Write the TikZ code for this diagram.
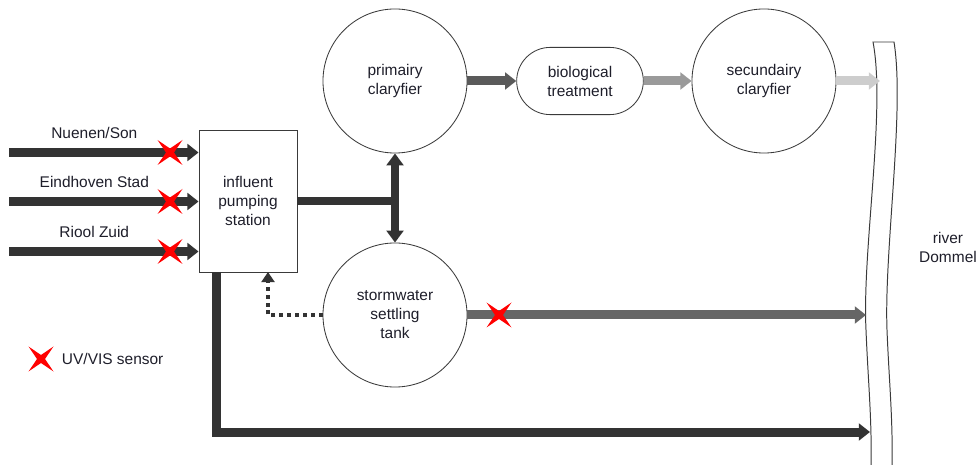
\documentclass[tikz,border=0pt]{standalone}
\usepackage{fontspec}
\setmainfont{Liberation Sans}
\usepackage{tikz}
\usetikzlibrary{
    arrows.meta,
    shapes.misc
}
\definecolor{txt}{HTML}{1E1E2A}
\definecolor{edge}{HTML}{3A3A3A}
\definecolor{pipe}{HTML}{333333}
\definecolor{pipeA}{HTML}{5A5A5A}
\definecolor{pipeB}{HTML}{9A9A9A}
\definecolor{pipeC}{HTML}{CDCDCD}
\definecolor{pipeS}{HTML}{666666}
\tikzset{
    every node/.style={font=\fontsize{11}{13.5}\selectfont, text=txt},
    unit/.style={draw=edge, line width=0.6pt, align=center},   % process units
    tank/.style={unit, circle, minimum size=3.6cm},
    flow/.style={line width=6.4pt, -{Triangle[length=0.28cm, width=0.42cm]}},
    uvvis/.pic={
        \fill[red] (-12.5,-12.5) -- (0,-4) -- (12.5,-12.5) -- (4,0) -- (12.5,12.5)
            -- (0,4) -- (-12.5,12.5) -- (-4,0) -- cycle;
    }
}

\begin{document}
\begin{tikzpicture}[x=0.025cm, y=-0.025cm]
    \useasboundingbox (0,0) rectangle (980,465);
    % units
    \node[unit, minimum width=2.45cm, minimum height=3.55cm] (pump) at (248,201) {influent\\pumping\\station};
    \node[tank] (primary) at (395,81) {primairy\\claryfier};
    \node[unit, rounded rectangle, minimum width=3.4cm, minimum height=1.68cm] (bio) at (580,81) {biological\\treatment};
    \node[tank] (secundary) at (764,81) {secundairy\\claryfier};
    \node[tank] (storm) at (395,315) {stormwater\\settling\\tank};
    \node[align=center] (river) at (948,247) {river\\Dommel};
    % river banks
    \draw[edge, line width=0.7pt] (871,465) .. controls (872,420) and (868,380) .. (866,330)
        .. controls (862,250) and (886,110) .. (873,42) -- (894,42)
        .. controls (905,110) and (884,250) .. (887,330)
        .. controls (889,380) and (893,420) .. (892,465);
    \coordinate (src1) at (9,152.5);
    \coordinate (src2) at (9,201.5);
    \coordinate (src3) at (9,251.5);
    \coordinate (out1) at (880,81);
    \coordinate (out2) at (866,315);
    \coordinate (out3) at (870,432);
    \coordinate (byp) at (216,272);
    \coordinate (ret) at (268,272);
    % sewer inflow
    \draw[flow, pipe] (src1) -- (pump.west |- src1) node[pos=0.45, above=3pt] {Nuenen/Son};
    \draw[flow, pipe] (src2) -- (pump.west |- src2) node[pos=0.45, above=3pt] {Eindhoven Stad};
    \draw[flow, pipe] (src3) -- (pump.west |- src3) node[pos=0.45, above=3pt] {Riool Zuid};
    % treatment line
    \draw[pipe, line width=6pt] (pump.east) -- (primary.south |- pump.east);
    \draw[pipe, line width=6pt, {Triangle[length=0.3cm, width=0.42cm]}-{Triangle[length=0.3cm, width=0.42cm]}] (primary.south) -- (storm.north);
    \draw[flow, pipeA] (primary.east) -- (bio.west);
    \draw[flow, pipeB] (bio.east) -- (secundary.west);
    \draw[flow, pipeC] (secundary.east) -- (out1);
    \draw[flow, pipeS] (storm.east) -- (out2);
    \draw[pipe, line width=2.8pt, dash pattern=on 2.8pt off 2.8pt, -{Triangle[length=0.25cm, width=0.32cm]}] (storm.west) -| (ret);
    \draw[flow, pipe] (byp) |- (out3);
    % sensors
    \pic at (170,152.5) {uvvis};
    \pic at (170,201.5) {uvvis};
    \pic at (170,251.5) {uvvis};
    \pic at (499,315) {uvvis};
    \pic at (41,359) {uvvis};
    \node[anchor=west] (legend) at (57,359) {UV/VIS sensor};
\end{tikzpicture}
\end{document}
